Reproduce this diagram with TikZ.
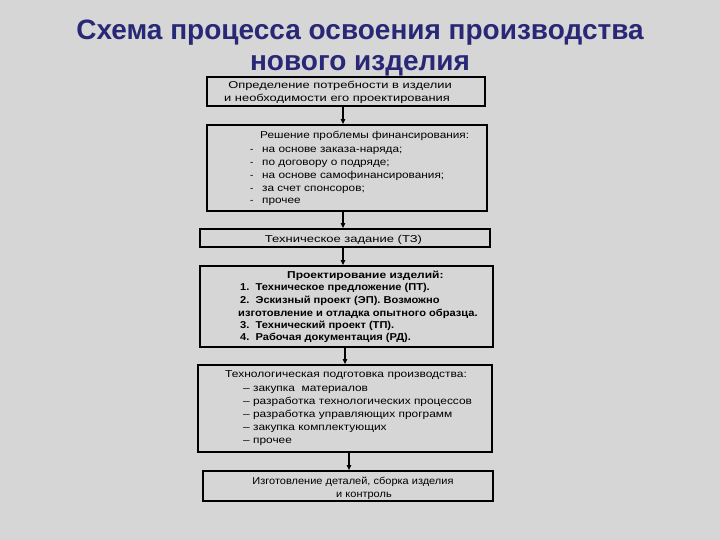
\documentclass[tikz,border=0pt]{standalone}
\usepackage{fontspec}
\usepackage{graphicx}
\setmainfont{Liberation Sans}
\usetikzlibrary{arrows.meta}
\definecolor{bg}{RGB}{214,214,214}
\definecolor{titleblue}{RGB}{40,40,118}
\newcommand{\sx}[2]{\scalebox{#1}[1]{#2}}
\begin{document}
\begin{tikzpicture}[x=1pt,y=-1pt,
  box/.style={draw=black, line width=1.8pt, inner sep=0pt},
  txt/.style={font=\fontsize{10}{12}\selectfont, inner sep=0pt, anchor=base west},
  btxt/.style={font=\fontsize{10}{12}\selectfont\bfseries, inner sep=0pt, anchor=base west},
  ctxt/.style={font=\fontsize{10}{12}\selectfont, inner sep=0pt, anchor=base},
  ttl/.style={font=\fontsize{28}{32}\selectfont\bfseries, text=titleblue, inner sep=0pt, anchor=base},
  arr/.style={-{Triangle[length=5pt,width=4.5pt]}, line width=1.1pt}]
\fill[bg] (0,0) rectangle (720,540);
\useasboundingbox (0,0) rectangle (720,540);
% title
\node[ttl] (title1) at (360,40) {Схема процесса освоения производства};
\node[ttl] (title2) at (360,71) {нового изделия};
% boxes
\node[box, minimum width=278pt, minimum height=29pt] (b1) at (346,91.5) {};
\node[box, minimum width=280pt, minimum height=86pt] (b2) at (347,168) {};
\node[box, minimum width=290pt, minimum height=18pt] (b3) at (345,238) {};
\node[box, minimum width=293pt, minimum height=81pt] (b4) at (346.5,306.5) {};
\node[box, minimum width=294pt, minimum height=87pt] (b5) at (345,408.5) {};
\node[box, minimum width=290pt, minimum height=30pt] (b6) at (348,486) {};
% box 1 text
\node[ctxt] (t1a) at (340,89) {\sx{1.29}{Определение потребности в изделии}};
\node[ctxt] (t1b) at (337,102) {\sx{1.29}{и необходимости его проектирования}};
% box 2 text
\node[txt] (t2a) at (260,138.5) {\sx{1.18}{Решение проблемы финансирования:}};
\node[txt] (t2b) at (250,152.5) {-};
\node[txt] (t2c) at (250,165.5) {-};
\node[txt] (t2d) at (250,178.5) {-};
\node[txt] (t2e) at (250,191.5) {-};
\node[txt] (t2f) at (250,203.5) {-};
\node[txt] (t2g) at (262,152.5) {\sx{1.18}{на основе заказа-наряда;}};
\node[txt] (t2h) at (262,165.5) {\sx{1.18}{по договору о подряде;}};
\node[txt] (t2i) at (262,178.5) {\sx{1.18}{на основе самофинансирования;}};
\node[txt] (t2j) at (262,191.5) {\sx{1.18}{за счет спонсоров;}};
\node[txt] (t2k) at (262,203.5) {\sx{1.18}{прочее}};
% box 3 text
\node[ctxt] (t3) at (343.5,242) {\sx{1.3}{Техническое задание (ТЗ)}};
% box 4 text
\node[btxt] (t4a) at (287,278) {\sx{1.2}{Проектирование изделий:}};
\node[btxt] (t4b) at (240,290) {\sx{1.11}{1.\ \ Техническое предложение (ПТ).}};
\node[btxt] (t4c) at (240,303) {\sx{1.11}{2.\ \ Эскизный проект (ЭП). Возможно}};
\node[btxt] (t4d) at (238,316) {\sx{1.11}{изготовление и отладка опытного образца.}};
\node[btxt] (t4e) at (240,328) {\sx{1.11}{3.\ \ Технический проект (ТП).}};
\node[btxt] (t4f) at (240,340) {\sx{1.11}{4.\ \ Рабочая документация (РД).}};
% box 5 text
\node[txt] (t5a) at (225,377) {\sx{1.2}{Технологическая подготовка производства:}};
\node[txt] (t5b) at (243,391) {\sx{1.19}{– закупка \ материалов}};
\node[txt] (t5c) at (243,404) {\sx{1.19}{– разработка технологических процессов}};
\node[txt] (t5d) at (243,417) {\sx{1.19}{– разработка управляющих программ}};
\node[txt] (t5e) at (243,430) {\sx{1.19}{– закупка комплектующих}};
\node[txt] (t5f) at (243,443) {\sx{1.19}{– прочее}};
% box 6 text
\node[ctxt] (t6a) at (353,484) {\sx{1.1}{Изготовление деталей, сборка изделия}};
\node[ctxt] (t6b) at (364,497) {\sx{1.1}{и контроль}};
% arrows
\coordinate (xa) at (343,0);
\coordinate (xb) at (345,0);
\coordinate (xc) at (349,0);
\draw[arr] (b1.south -| xa) -- (b2.north -| xa);
\draw[arr] (b2.south -| xa) -- (b3.north -| xa);
\draw[arr] (b3.south -| xa) -- (b4.north -| xa);
\draw[arr] (b4.south -| xb) -- (b5.north -| xb);
\draw[arr] (b5.south -| xc) -- (b6.north -| xc);
\end{tikzpicture}
\end{document}
